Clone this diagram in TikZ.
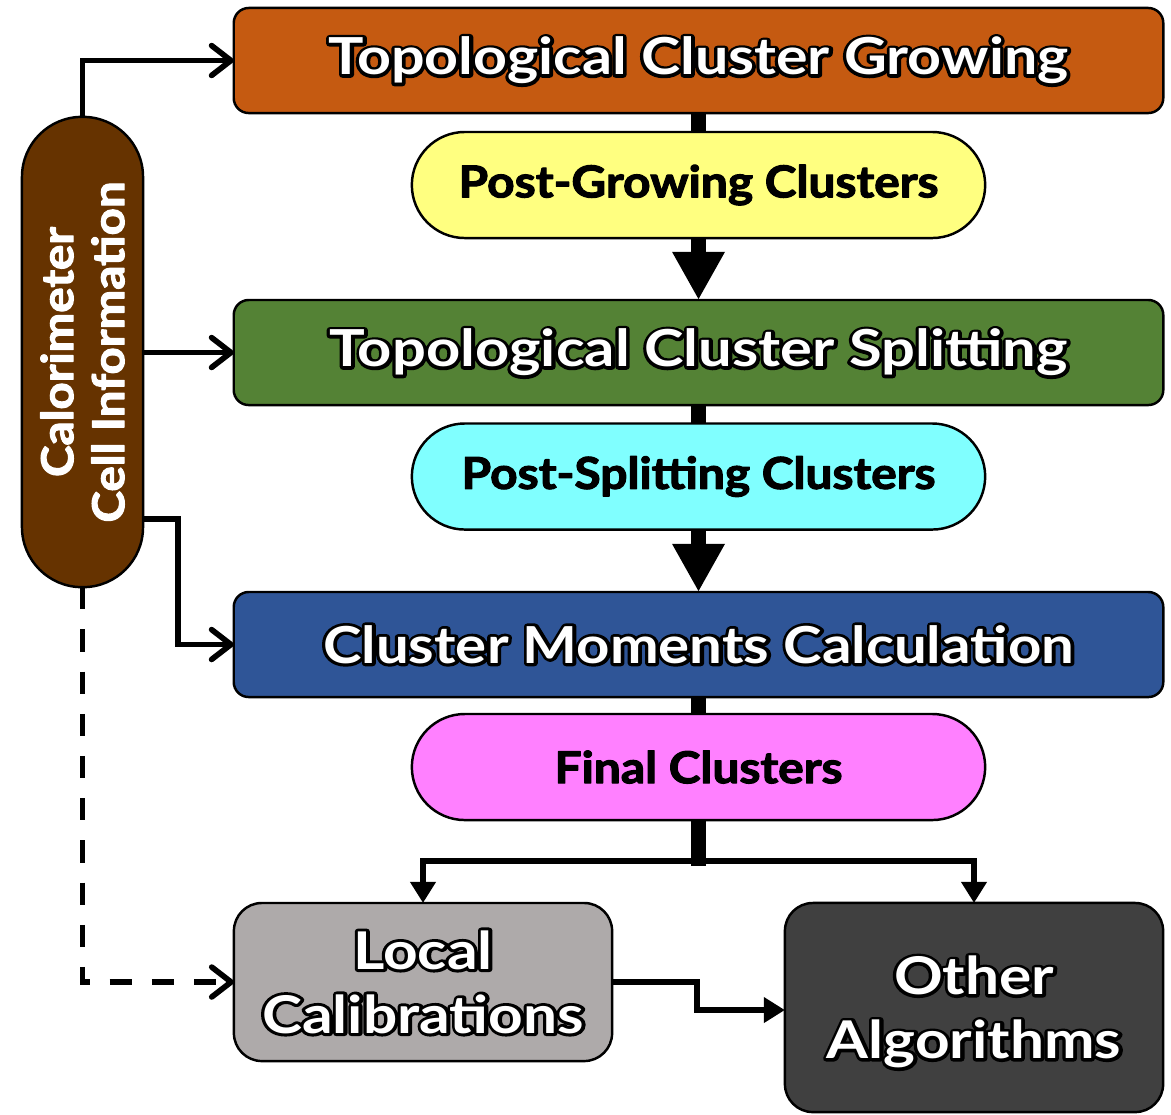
\documentclass[tikz,border=0pt]{standalone}
\usepackage{fontspec}
\setmainfont{Lato}
\usepackage{graphicx}
\usetikzlibrary{arrows.meta,backgrounds}
\definecolor{cOrange}{HTML}{C55A11}
\definecolor{cYellow}{HTML}{FFFF80}
\definecolor{cGreen}{HTML}{548235}
\definecolor{cCyan}{HTML}{80FFFF}
\definecolor{cBlue}{HTML}{2F5597}
\definecolor{cPink}{HTML}{FF80FF}
\definecolor{cGray}{HTML}{AEAAAA}
\definecolor{cDark}{HTML}{404040}
\definecolor{cBrown}{HTML}{663300}
% outlined white text: a fattened black copy under the white text
\newcommand{\otext}[2]{\scalebox{#1}[1]{\rlap{\color{black}\special{pdf:literal direct 1 j 2 Tr 1.7 w}#2\special{pdf:literal direct 0 Tr 0 j}}#2}}
% slightly heavier text
\newcommand{\wtext}[2]{\scalebox{#1}[1]{\special{pdf:literal direct 1 j 2 Tr 0.3 w}#2\special{pdf:literal direct 0 Tr 0 j}}}
\tikzset{
  bigbox/.style={draw=black, line width=0.7pt, rounded corners=0.15cm, inner sep=0pt, outer sep=0pt,
    minimum width=9.29cm, minimum height=1.05cm, text=white, font=\fontsize{14.5}{17}\selectfont\bfseries},
  endbox/.style={draw=black, line width=0.7pt, rounded corners=0.28cm, inner sep=0pt, outer sep=0pt,
    minimum width=3.78cm, text=white, align=center, font=\fontsize{14.8}{18.2}\selectfont\bfseries},
  pill/.style={draw=black, line width=0.7pt, rounded corners=0.53cm, inner sep=0pt, outer sep=0pt,
    minimum width=5.73cm, minimum height=1.06cm, text=black, font=\fontsize{12.5}{14}\selectfont\bfseries},
  calpill/.style={draw=black, line width=0.7pt, fill=cBrown, rounded corners=0.6cm, inner sep=0pt, outer sep=0pt,
    minimum width=1.21cm, minimum height=4.70cm},
  thickarr/.style={line width=4pt, -{Triangle[width=14pt,length=13.7pt]}},
  thickline/.style={line width=4pt},
  medarr/.style={line width=1.7pt, -{Triangle[width=7pt,length=6pt]}},
  chev/.style={line width=1.6pt, -{Straight Barb[length=5.5pt,width=8.5pt,line cap=round,line join=round]}},
}
\begin{document}
\begin{tikzpicture}[x=0.01cm,y=-0.01cm]
\useasboundingbox (0,0) rectangle (1171,1114);
\node[bigbox, fill=cOrange] (grow) at (698.5,60.5) {\otext{1.16}{Topological Cluster Growing}};
\node[pill, fill=cYellow] (pg) at (698.5,185) {\wtext{1.09}{Post-Growing Clusters}};
\node[bigbox, fill=cGreen] (split) at (698.5,352.5) {\otext{1.17}{Topological Cluster Splitting}};
\node[pill, fill=cCyan] (ps) at (698.5,476.5) {\wtext{1.09}{Post-Splitting Clusters}};
\node[bigbox, fill=cBlue] (mom) at (698.5,644.5) {\otext{1.14}{Cluster Moments Calculation}};
\node[pill, fill=cPink] (fin) at (698.5,767) {\wtext{1.09}{Final Clusters}};
\node[endbox, fill=cGray, minimum height=1.58cm] (loc) at (423,982) {\otext{1.16}{Local}\\\otext{1.16}{Calibrations}};
\node[endbox, fill=cDark, minimum height=2.09cm] (oth) at (974,1007.5) {};
\node[text=white, align=center, font=\fontsize{14.8}{18.2}\selectfont\bfseries] (othtext) at (974,1012) {\otext{1.16}{Other}\\\otext{1.16}{Algorithms}};
\node[calpill] (cal) at (82.5,352) {};
\node[rotate=90, text=white, align=center, font=\fontsize{12.5}{14.5}\selectfont\bfseries] (caltext) at (cal.center) {\wtext{1.08}{Calorimeter}\\\wtext{1.08}{Cell Information}};
\coordinate (j) at (698.5,861);
\coordinate (k1) at (697,1010);
\coordinate (c2) at (143,519);
\begin{pgfonlayer}{background}
\draw[thickarr] (grow.south) -- (split.north);
\draw[thickarr] (split.south) -- (mom.north);
\draw[thickline] (mom.south) -- (fin.north);
\draw[thickline] (fin.south) -- ([yshift=-0.05cm]j);
\end{pgfonlayer}
\draw[medarr] (j) -| (loc.north);
\draw[medarr] (j) -| (oth.north);
\draw[medarr] (loc.east) -| (k1) -- (k1 -| oth.west);
\draw[chev] (cal.north) |- (grow.west);
\draw[chev] (cal.east |- split.west) -- (split.west);
\draw[chev] (c2) -- ++(35,0) |- (mom.west);
\draw[chev, dash pattern=on 6.3pt off 5.7pt] (cal.south) |- (loc.west);
\end{tikzpicture}
\end{document}
